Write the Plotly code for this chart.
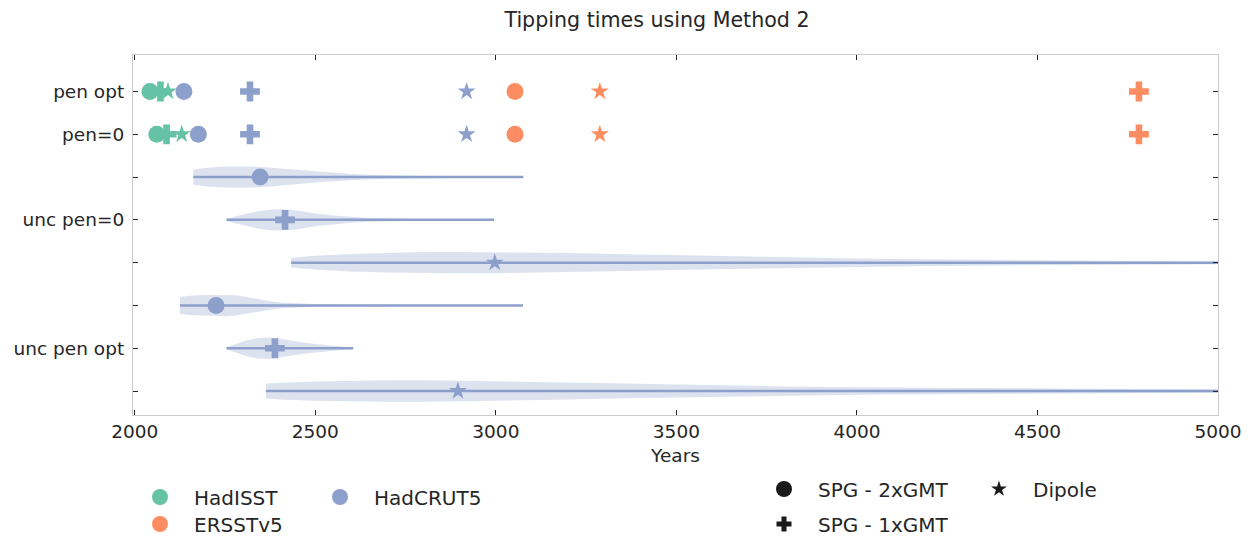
import plotly.graph_objects as go

# ---------------- data ----------------
row_labels = ["pen opt", "pen=0", "", "unc pen=0", "", "", "unc pen opt", ""]
row_pos = [0, 1, 2, 3, 4, 5, 6, 7]

datasets = ["HadISST", "ERSSTv5", "HadCRUT5"]
colors = {"HadISST": "#66c2a5", "ERSSTv5": "#fc8d62", "HadCRUT5": "#8da0cb"}
methods = ["SPG - 2xGMT", "SPG - 1xGMT", "Dipole"]
symbols = {"SPG - 2xGMT": "circle", "SPG - 1xGMT": "cross", "Dipole": "star"}

# point estimates (year) per dataset, in method order [2xGMT, 1xGMT, Dipole]
pen_opt = {
    "HadISST": [2042, 2071, 2092],
    "ERSSTv5": [3053, 4781, 3288],
    "HadCRUT5": [2136, 2319, 2919],
}
pen_zero = {
    "HadISST": [2061, 2088, 2130],
    "ERSSTv5": [3053, 4781, 3288],
    "HadCRUT5": [2176, 2319, 2919],
}

# uncertainty distributions for HadCRUT5 (rows 2..7)
unc_rows = [2, 3, 4, 5, 6, 7]
unc_methods = ["SPG - 2xGMT", "SPG - 1xGMT", "Dipole", "SPG - 2xGMT", "SPG - 1xGMT", "Dipole"]
unc_best = [2347, 2416, 2997, 2225, 2388, 2895]
unc_min = [2162, 2254, 2433, 2125, 2254, 2363]
unc_max = [3076, 2995, 5600, 3075, 2605, 5600]

# density profiles (relative, peak = 1) along the years
dens_years = [
    [2162, 2200, 2250, 2300, 2350, 2400, 2450, 2500, 2550, 2600, 2650, 2700, 2800, 2900, 3000, 3076],
    [2254, 2280, 2310, 2340, 2370, 2400, 2430, 2460, 2500, 2550, 2600, 2650, 2700, 2800, 2900, 2995],
    [2433, 2500, 2600, 2700, 2800, 2900, 3000, 3100, 3200, 3400, 3600, 3800, 4000, 4200, 4400, 4600, 4800, 5000, 5200, 5600],
    [2125, 2150, 2200, 2250, 2280, 2310, 2340, 2370, 2400, 2450, 2500, 2600, 2700, 2800, 2900, 3075],
    [2254, 2280, 2310, 2340, 2370, 2400, 2430, 2460, 2500, 2540, 2580, 2605],
    [2363, 2400, 2500, 2600, 2700, 2800, 2900, 3000, 3200, 3400, 3600, 3800, 4000, 4200, 4400, 4600, 4800, 5000, 5200, 5600],
]
dens_vals = [
    [0.72, 0.88, 0.98, 1.0, 0.95, 0.82, 0.65, 0.5, 0.38, 0.28, 0.21, 0.16, 0.1, 0.07, 0.05, 0.03],
    [0.1, 0.35, 0.6, 0.8, 0.95, 1.0, 0.95, 0.82, 0.6, 0.4, 0.26, 0.17, 0.12, 0.07, 0.04, 0.03],
    [0.45, 0.65, 0.82, 0.93, 0.99, 1.0, 0.98, 0.95, 0.9, 0.76, 0.62, 0.5, 0.4, 0.32, 0.26, 0.21, 0.17, 0.14, 0.12, 0.1],
    [0.8, 0.9, 0.98, 1.0, 0.95, 0.8, 0.6, 0.42, 0.28, 0.18, 0.13, 0.09, 0.07, 0.05, 0.04, 0.03],
    [0.1, 0.4, 0.75, 0.95, 1.0, 0.9, 0.7, 0.55, 0.4, 0.25, 0.14, 0.08],
    [0.7, 0.78, 0.9, 0.97, 1.0, 1.0, 0.97, 0.92, 0.8, 0.66, 0.53, 0.43, 0.35, 0.29, 0.24, 0.2, 0.17, 0.15, 0.13, 0.1],
]

x_ticks = [2000, 2500, 3000, 3500, 4000, 4500, 5000]

# ---------------- style ----------------
FONT = "DejaVu Sans"
TXT = "#262626"
HALF_W = 0.25
marker_size = {"circle": 17, "cross": 16.5, "star": 13.5}
blue = colors["HadCRUT5"]

fig = go.Figure()

# violins
for i, r in enumerate(unc_rows):
    ys = dens_years[i]
    d = dens_vals[i]
    px = ys + ys[::-1]
    py = [r - HALF_W * v for v in d] + [r + HALF_W * v for v in d[::-1]]
    fig.add_trace(go.Scatter(x=px, y=py, mode="lines", fill="toself",
                             fillcolor="rgba(141,160,203,0.3)", line=dict(width=0),
                             hoverinfo="skip", showlegend=False))
for i, r in enumerate(unc_rows):
    fig.add_trace(go.Scatter(x=[unc_min[i], unc_max[i]], y=[r, r], mode="lines",
                             line=dict(color=blue, width=2.5), showlegend=False,
                             hoverinfo="skip"))
for i, r in enumerate(unc_rows):
    s = symbols[unc_methods[i]]
    fig.add_trace(go.Scatter(x=[unc_best[i]], y=[r], mode="markers",
                             marker=dict(symbol=s, size=marker_size[s], color=blue,
                                         line=dict(width=0)),
                             showlegend=False))

# point estimates
for row, table in [(0, pen_opt), (1, pen_zero)]:
    for ds in datasets:
        for j, m in enumerate(methods):
            s = symbols[m]
            fig.add_trace(go.Scatter(x=[table[ds][j]], y=[row], mode="markers",
                                     marker=dict(symbol=s, size=marker_size[s],
                                                 color=colors[ds], line=dict(width=0)),
                                     showlegend=False, name=ds))

# legends (one per entry, positioned in container pixels)
FIG_W, FIG_H = 1251.0, 536.0
legend_items = [
    ("HadISST", "circle", colors["HadISST"], 16, 160, 497),
    ("HadCRUT5", "circle", colors["HadCRUT5"], 16, 340, 497),
    ("ERSSTv5", "circle", colors["ERSSTv5"], 16, 160, 524),
    ("SPG - 2xGMT", "circle", "#1a1a1a", 16, 784, 489),
    ("Dipole", "star", "#1a1a1a", 12, 999, 489),
    ("SPG - 1xGMT", "cross", "#1a1a1a", 12.5, 784, 524),
]
ITEMW = 58
layout_legends = {}
for k, (name, sym, col, sz, cx, cy) in enumerate(legend_items):
    key = "legend" if k == 0 else f"legend{k+1}"
    fig.add_trace(go.Scatter(x=[None], y=[None], mode="markers", name=name,
                             marker=dict(symbol=sym, size=sz, color=col, line=dict(width=0)),
                             legend=key, showlegend=True))
    layout_legends[key] = dict(x=(cx - (5 + ITEMW / 2)) / FIG_W, y=1 - cy / FIG_H,
                               xref="container", yref="container",
                               xanchor="left", yanchor="middle",
                               font=dict(family=FONT, size=20, color=TXT),
                               bgcolor="rgba(0,0,0,0)", borderwidth=0,
                               itemwidth=ITEMW, itemsizing="trace")

fig.update_layout(
    width=1251, height=536,
    margin=dict(l=133, r=33, t=55, b=121, autoexpand=False),
    paper_bgcolor="white", plot_bgcolor="white",
    font=dict(family=FONT, size=18.5, color=TXT),
    title=dict(text="Tipping times using Method 2", x=657 / 1251, y=1 - 20 / 536,
               xanchor="center", yanchor="middle", xref="container", yref="container",
               font=dict(family=FONT, size=20.6, color=TXT)),
    xaxis=dict(range=[1995, 5000], tickvals=x_ticks, ticktext=[str(v) for v in x_ticks],
               showgrid=False, zeroline=False, showline=True, linecolor="#cccccc",
               linewidth=1.25, mirror="ticks", ticks="inside", ticklen=5,
               tickcolor=TXT, tickwidth=1,
               title=dict(text="Years", standoff=7, font=dict(family=FONT, size=18.5, color=TXT)),
               tickfont=dict(family=FONT, size=18.5, color=TXT)),
    yaxis=dict(range=[7.56, -0.853], tickvals=row_pos, ticktext=row_labels,
               showgrid=False, zeroline=False, showline=True, linecolor="#cccccc",
               linewidth=1.25, mirror="ticks", ticks="inside", ticklen=5,
               tickcolor=TXT, tickwidth=1, ticklabelstandoff=4,
               tickfont=dict(family=FONT, size=18.5, color=TXT)),
    **layout_legends,
)

fig.write_html("out.html")
